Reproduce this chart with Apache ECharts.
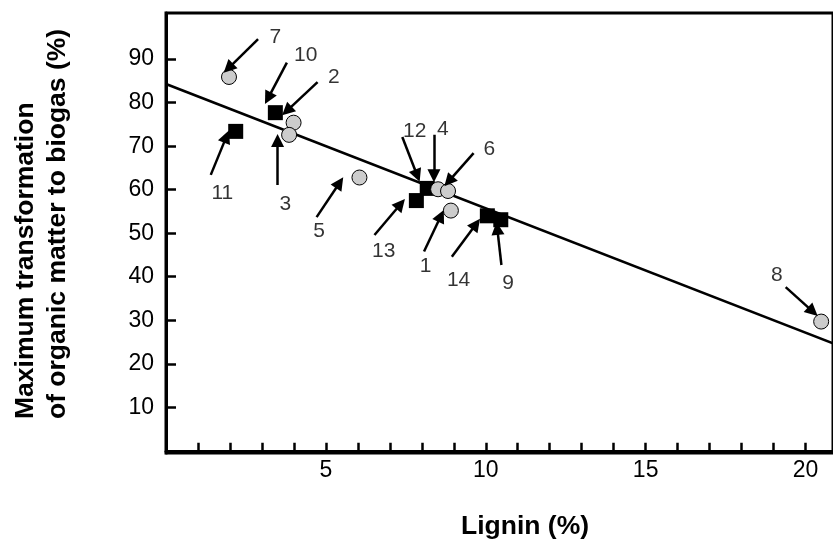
<!DOCTYPE html>
<html>
<head>
<meta charset="UTF-8">
<title>Lignin vs biogas transformation</title>
<script src="https://cdn.jsdelivr.net/npm/echarts@6/dist/echarts.min.js"></script>
<style>
  body { margin: 0; background: #fff; overflow: hidden; }
  #chart { width: 833px; height: 540px; }
</style>
</head>
<body>
<div id="chart"></div>
<script>
// Samples drawn as grey circles
const circleIds = ['1', '2', '3', '4', '5', '6', '7', '8']
const circleLignin = [8.91, 3.99, 3.85, 8.51, 6.05, 8.82, 1.97, 20.49]
const circleTransform = [55.2, 75.4, 72.6, 60.1, 62.8, 59.7, 85.9, 29.7]

// Samples drawn as black squares
const squareIds = ['9', '10', '11', '12', '13', '14']
const squareLignin = [10.47, 3.42, 2.18, 8.17, 7.83, 10.05]
const squareTransform = [53.1, 77.7, 73.4, 60.3, 57.5, 54.0]

// Regression line
const fitIntercept = 84.3
const fitSlope = -2.857

// Axis ticks
const xTicks = [1, 2, 3, 4, 5, 6, 7, 8, 9, 10, 11, 12, 13, 14, 15, 16, 17, 18, 19, 20]
const xLabels = [5, 10, 15, 20]
const yTicks = [10, 20, 30, 40, 50, 60, 70, 80, 90]

const X_MIN = 0, X_MAX = 20.86
const Y_MIN = -0.5, Y_MAX = 100.6

// Callouts: [label, labelX, labelY, tailX, tailY, headX, headY] in data units
const callouts = [
  ['7', 3.42, 95.1, 2.88, 94.6, 1.95, 87.9],
  ['10', 4.37, 90.8, 3.78, 89.2, 3.19, 81.0],
  ['2', 5.25, 85.9, 4.74, 84.7, 3.78, 78.1],
  ['11', 1.76, 59.2, 1.40, 63.4, 1.89, 72.2],
  ['3', 3.73, 56.7, 3.49, 61.1, 3.49, 71.3],
  ['5', 4.79, 50.4, 4.71, 53.7, 5.43, 61.6],
  ['12', 7.78, 73.4, 7.39, 72.1, 7.86, 63.2],
  ['4', 8.66, 73.9, 8.38, 72.6, 8.38, 63.2],
  ['13', 6.81, 45.8, 6.52, 49.6, 7.34, 56.7],
  ['1', 8.12, 42.5, 8.07, 45.8, 8.60, 54.0],
  ['6', 10.11, 69.3, 9.62, 68.4, 8.84, 61.9],
  ['14', 9.15, 39.1, 8.94, 44.6, 9.70, 52.1],
  ['9', 10.70, 38.5, 10.49, 42.7, 10.36, 51.1],
  ['8', 19.10, 40.4, 19.38, 37.6, 20.23, 32.0]
]

const FONT = 'Liberation Sans, Arial, Helvetica, sans-serif'

const chart = echarts.init(document.getElementById('chart'), null, { renderer: 'canvas' })

chart.setOption({
  animation: false,
  grid: {
    left: 166, top: 13, right: -6, bottom: 87,
    show: true, borderColor: '#000', borderWidth: 3, backgroundColor: 'transparent'
  },
  xAxis: {
    type: 'value', min: X_MIN, max: X_MAX,
    axisLine: { lineStyle: { color: '#000', width: 3 } },
    axisTick: { inside: true, length: 8, lineStyle: { color: '#000', width: 2.5 }, customValues: xTicks },
    axisLabel: { color: '#000', fontSize: 23, fontFamily: FONT, margin: 6, customValues: xLabels },
    splitLine: { show: false }
  },
  yAxis: {
    type: 'value', min: Y_MIN, max: Y_MAX,
    axisLine: { lineStyle: { color: '#000', width: 3 } },
    axisTick: { inside: true, length: 10, lineStyle: { color: '#000', width: 2.5 }, customValues: yTicks },
    axisLabel: { color: '#000', fontSize: 23, fontFamily: FONT, margin: 12, customValues: yTicks },
    splitLine: { show: false }
  },
  graphic: [
    {
      type: 'text', x: 42, y: 419, rotation: Math.PI / 2,
      style: {
        text: 'Maximum transformation\nof organic matter to biogas (%)',
        font: 'bold 26.5px ' + FONT, fill: '#000',
        align: 'left', verticalAlign: 'middle', lineHeight: 32
      }
    },
    {
      type: 'text', x: 461, y: 527,
      style: {
        text: 'Lignin (%)', font: 'bold 26.5px ' + FONT, fill: '#000',
        align: 'left', verticalAlign: 'middle'
      }
    }
  ],
  series: [
    {
      type: 'line',
      data: [[X_MIN, fitIntercept + fitSlope * X_MIN], [X_MAX, fitIntercept + fitSlope * X_MAX]],
      symbol: 'none',
      lineStyle: { color: '#000', width: 2.6 },
      z: 2
    },
    {
      type: 'scatter',
      data: squareIds.map((id, i) => ({ name: id, value: [squareLignin[i], squareTransform[i]] })),
      symbol: 'rect', symbolSize: 15,
      itemStyle: { color: '#000', opacity: 1 },
      z: 3
    },
    {
      type: 'scatter',
      data: circleIds.map((id, i) => ({ name: id, value: [circleLignin[i], circleTransform[i]] })),
      symbol: 'circle', symbolSize: 15,
      itemStyle: { color: '#cccccc', borderColor: '#000', borderWidth: 1, opacity: 1 },
      z: 4
    },
    {
      type: 'lines',
      coordinateSystem: 'cartesian2d',
      data: callouts.map(c => ({ coords: [[c[3], c[4]], [c[5], c[6]]] })),
      symbol: ['none', 'triangle'],
      symbolSize: [11, 13],
      lineStyle: { color: '#000', width: 2.5, opacity: 1 },
      itemStyle: { color: '#000' },
      z: 5
    },
    {
      type: 'scatter',
      data: callouts.map(c => ({ name: c[0], value: [c[1], c[2]] })),
      symbolSize: 0,
      itemStyle: { color: '#000' },
      label: {
        show: true, position: 'inside', formatter: '{b}',
        color: '#000', fontSize: 21, fontFamily: FONT, textBorderWidth: 0
      },
      z: 6
    }
  ]
})
</script>
</body>
</html>
